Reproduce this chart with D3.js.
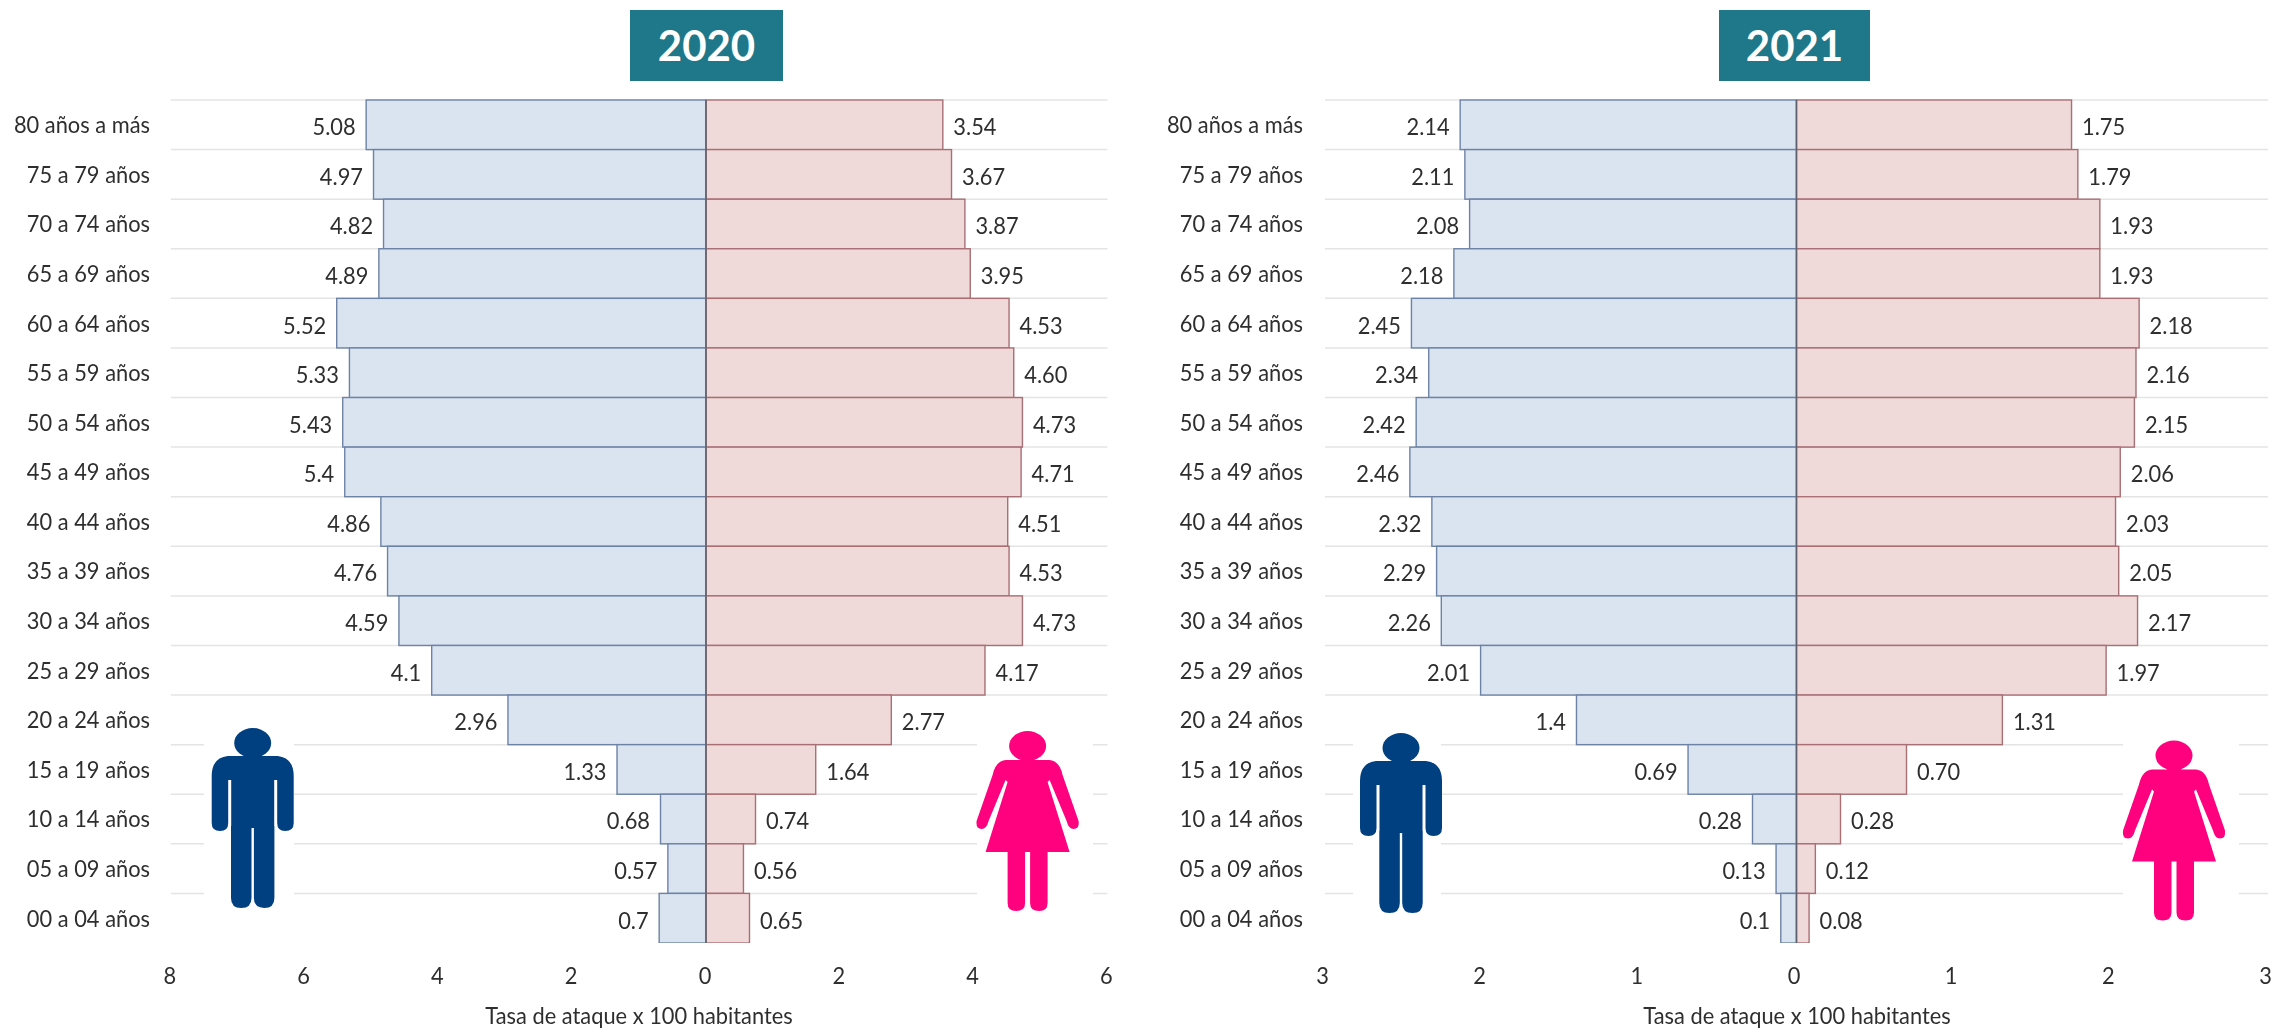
<!DOCTYPE html>
<html><head><meta charset="utf-8">
<script src="https://cdn.jsdelivr.net/npm/d3@7"></script>
<style>
html,body{margin:0;padding:0;background:#fff}
svg{display:block;filter:blur(0.5px)}
text{font-family:Lato,"Open Sans",sans-serif}
</style></head><body>
<svg id="c" width="2272" height="1030"></svg>
<script>
const categories = ["80 años a más","75 a 79 años","70 a 74 años","65 a 69 años","60 a 64 años","55 a 59 años","50 a 54 años","45 a 49 años","40 a 44 años","35 a 39 años","30 a 34 años","25 a 29 años","20 a 24 años","15 a 19 años","10 a 14 años","05 a 09 años","00 a 04 años"];
const men2020 = [5.08,4.97,4.82,4.89,5.52,5.33,5.43,5.4,4.86,4.76,4.59,4.1,2.96,1.33,0.68,0.57,0.7];
const women2020 = [3.54,3.67,3.87,3.95,4.53,4.60,4.73,4.71,4.51,4.53,4.73,4.17,2.77,1.64,0.74,0.56,0.65];
const men2021 = [2.14,2.11,2.08,2.18,2.45,2.34,2.42,2.46,2.32,2.29,2.26,2.01,1.4,0.69,0.28,0.13,0.1];
const women2021 = [1.75,1.79,1.93,1.93,2.18,2.16,2.15,2.06,2.03,2.05,2.17,1.97,1.31,0.70,0.28,0.12,0.08];
const ticks2020 = [-8,-6,-4,-2,0,2,4,6];
const ticks2021 = [-3,-2,-1,0,1,2,3];
const axisTitle = "Tasa de ataque x 100 habitantes";

const manPath = "M-25,28 H25 Q41,30 41,48 V95 Q41,103 32.5,103 Q24.5,103 24.5,95 V52 H21.5 V98 H21.7 V170 Q21.7,180 11.5,180 Q1.2,180 1.2,170 V100 H-1.2 V170 Q-1.2,180 -11.5,180 Q-21.7,180 -21.7,170 V98 H-21.5 V52 H-24.5 V95 Q-24.5,103 -32.5,103 Q-41,103 -41,95 V48 Q-41,30 -25,28 Z";
const womanPath = "M-22,29 H22 Q32,30 35,44 L51,90 Q52,98 46,98 Q41,98 39,90 L22,49 L20,51 L42,121 H20 V172 Q20,180 11.5,180 Q2.5,180 2.5,172 V121 H-2.5 V172 Q-2.5,180 -11.5,180 Q-20,180 -20,172 V121 H-42 L-20,51 L-22,49 L-39,90 Q-41,98 -46,98 Q-52,98 -51,90 L-35,44 Q-32,30 -22,29 Z";

const svg = d3.select("#c");
const rowY = d3.scaleBand().domain(categories).range([100,943]);
const fontSize = 24, squeeze = 0.91;

function panel(o){
  const x = d3.scaleLinear().domain(o.domain).range(o.range);
  const g = svg.append("g");
  g.selectAll("line.grid").data(categories).join("line")
    .attr("x1",o.range[0]).attr("x2",o.range[1])
    .attr("y1",d=>rowY(d)).attr("y2",d=>rowY(d))
    .attr("stroke","#e4e4e4").attr("stroke-width",1.5);
  o.icons.forEach(ic=>g.append("rect").attr("x",ic.wx).attr("width",ic.ww).attr("y",700).attr("height",230).attr("fill","#fff"));
  const clipId = "clip"+o.year;
  svg.append("clipPath").attr("id",clipId).append("rect").attr("x",0).attr("y",90).attr("width",2272).attr("height",853);
  const bars = g.append("g").attr("clip-path",`url(#${clipId})`);
  const series = [
    {vals:o.men, sign:-1, fill:"#dae4f1", stroke:"#6d83a6", fmt:d=>String(d)},
    {vals:o.women, sign:1, fill:"#f0d9d9", stroke:"#a86f75", fmt:d=>d.toFixed(2)}
  ];
  series.forEach(s=>{
    bars.selectAll(null).data(s.vals).join("rect")
      .attr("x",d=>s.sign<0?x(-d):x(0))
      .attr("width",d=>Math.abs(x(d)-x(0)))
      .attr("y",(d,i)=>rowY(categories[i]))
      .attr("height",rowY.bandwidth())
      .attr("fill",s.fill).attr("stroke",s.stroke).attr("stroke-width",1.4);
    g.selectAll(null).data(s.vals).join("text")
      .attr("transform",(d,i)=>`translate(${x(s.sign*d)+s.sign*10.5},${rowY(categories[i])+rowY.bandwidth()/2+2}) scale(${squeeze},1)`)
      .attr("dy","0.35em")
      .attr("text-anchor",s.sign<0?"end":"start")
      .attr("font-size",fontSize).attr("fill","#2e2e2e")
      .text(s.fmt);
  });
  g.append("line").attr("x1",x(0)).attr("x2",x(0)).attr("y1",100).attr("y2",943)
    .attr("stroke","#5c5f6e").attr("stroke-width",1.5);
  const ya = g.append("g").attr("transform",`translate(${o.catX},0)`)
    .call(d3.axisLeft(rowY).tickSize(0).tickPadding(0));
  ya.select(".domain").remove();
  ya.selectAll("text").attr("font-size",fontSize).attr("fill","#2e2e2e").style("font-family","Lato")
    .attr("dy","0.35em").attr("y",0).attr("transform",`scale(${squeeze},1)`);
  const xa = g.append("g").attr("transform",`translate(${o.tickDx},967)`)
    .call(d3.axisBottom(x).tickValues(o.ticks).tickSize(0).tickPadding(0).tickFormat(d=>Math.abs(d)));
  xa.select(".domain").remove();
  xa.selectAll("text").attr("font-size",fontSize).attr("fill","#2e2e2e").style("font-family","Lato")
    .attr("transform",`scale(${squeeze},1)`);
  g.append("text").attr("transform",`translate(${o.titleX},1016) scale(0.95,1)`).attr("dy","0.35em").attr("text-anchor","middle")
    .attr("font-size",23).attr("fill","#2e2e2e").text(axisTitle);
  g.append("rect").attr("x",o.box[0]).attr("y",10).attr("width",o.box[1]-o.box[0]).attr("height",71).attr("fill","#1f7889");
  g.append("text").attr("x",(o.box[0]+o.box[1])/2).attr("y",45.5).attr("dy","0.36em").attr("text-anchor","middle")
    .attr("font-size",42).attr("font-weight",700).attr("fill","#fff").text(o.year);
  o.icons.forEach(ic=>{
    const k = g.append("g").attr("transform",`translate(${ic.cx},${ic.top})`).attr("fill",ic.color);
    k.append("ellipse").attr("cx",0).attr("cy",15).attr("rx",18.5).attr("ry",15);
    k.append("path").attr("d",ic.d);
    k.append("rect").attr("x",-7).attr("y",24).attr("width",14).attr("height",8);
  });
}

panel({year:"2020",men:men2020,women:women2020,domain:[-8,6],range:[170.8,1107.4],ticks:ticks2020,tickDx:-1.5,catX:150,titleX:639,box:[630,783],
  icons:[{cx:252.7,top:728,color:"#003f80",d:manPath,wx:204,ww:90},{cx:1027.6,top:731,color:"#ff007f",d:womanPath,wx:977,ww:116}]});
panel({year:"2021",men:men2021,women:women2021,domain:[-3,3],range:[1325,2268],ticks:ticks2021,tickDx:-3,catX:1303,titleX:1797,box:[1719,1870],
  icons:[{cx:1401,top:733,color:"#003f80",d:manPath,wx:1353,ww:88},{cx:2174,top:740.5,color:"#ff007f",d:womanPath,wx:2123,ww:116}]});
</script>
</body></html>
